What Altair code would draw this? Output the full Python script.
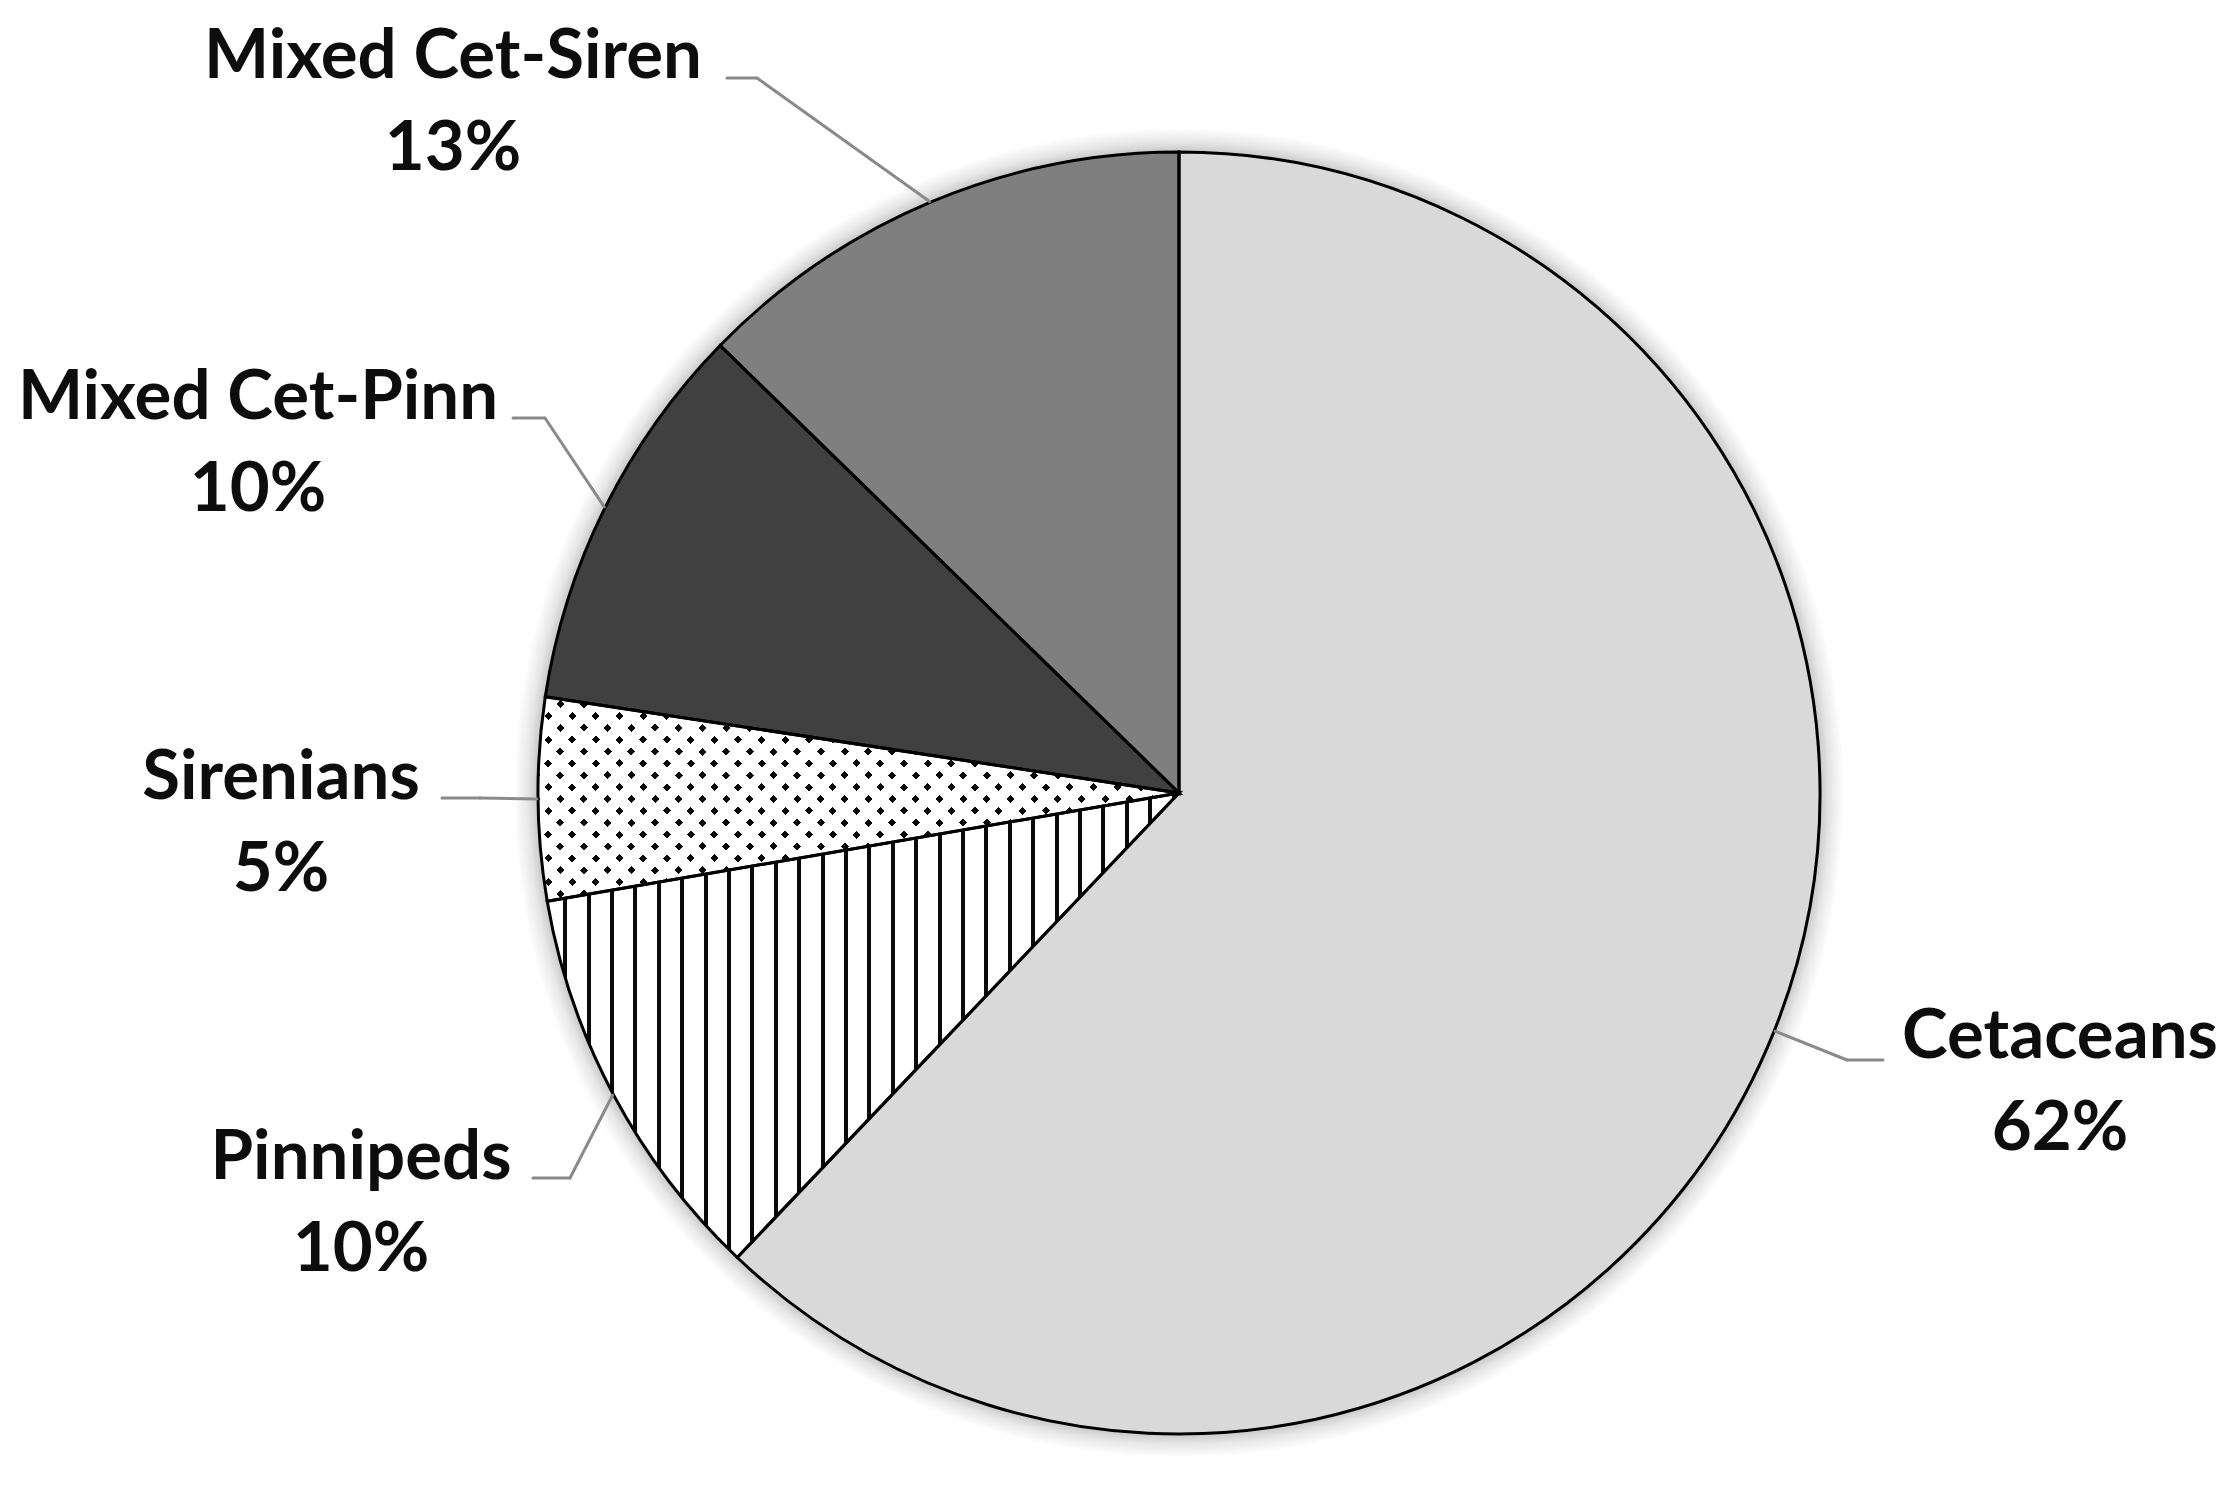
import math
import altair as alt
import pandas as pd

# ---------------- data ----------------
groups = ["Cetaceans", "Pinnipeds", "Sirenians", "Mixed Cet-Pinn", "Mixed Cet-Siren"]
shares = [62.1, 10.2, 5.1, 9.9, 12.7]

# ---------------- layout / style ----------------
W_VIEW, H_VIEW = 2215, 1460
CX, CY, R = 1171, 785, 641
TOTAL = sum(shares)
FONT = "Lato"
FS = 69
LINE_GAP = 92
LEADER = "#8a8a8a"

# label centre x, first-line baseline, leader elbow x, leader end x, leader y (view px)
label_layout = {
    "Cetaceans": (2052, 1050, 1839, 1875, 1052),
    "Pinnipeds": (353, 1171, 562, 525, 1170),
    "Sirenians": (273, 791, 472, 434, 790),
    "Mixed Cet-Pinn": (250, 411, 537, 505, 410),
    "Mixed Cet-Siren": (445, 70, 749, 719, 70),
}

df = pd.DataFrame({"group": groups, "value": shares, "order": list(range(len(groups)))})
df["lx"] = [label_layout[g][0] for g in groups]
df["ly"] = [label_layout[g][1] for g in groups]
df["ex"] = [label_layout[g][2] for g in groups]
df["tx"] = [label_layout[g][3] for g in groups]
df["ey"] = [label_layout[g][4] for g in groups]


# ---------------- pattern geometry (gradients in bbox units) ----------------
def pt(a):
    r = math.radians(a)
    return CX + R * math.sin(r), CY - R * math.cos(r)


def wedge_bbox(name):
    i = groups.index(name)
    a0 = sum(shares[:i]) / TOTAL * 360
    a1 = sum(shares[: i + 1]) / TOTAL * 360
    pts = [(CX, CY), pt(a0), pt(a1)] + [pt(c) for c in (0, 90, 180, 270, 360) if a0 < c < a1]
    xs = [p[0] for p in pts]
    ys = [p[1] for p in pts]
    return min(xs), min(ys), max(xs), max(ys)


def band_stops(length, first, period, half, band_col, bg_col):
    stops = [{"offset": 0, "color": bg_col}]
    pos = first
    while pos < length:
        lo = max(0.0, (pos - half) / length)
        hi = min(1.0, (pos + half) / length)
        stops += [
            {"offset": lo, "color": bg_col},
            {"offset": lo, "color": band_col},
            {"offset": hi, "color": band_col},
            {"offset": hi, "color": bg_col},
        ]
        pos += period
    stops.append({"offset": 1, "color": bg_col})
    return stops


# vertical stripes for Pinnipeds
px0, py0, px1, py1 = wedge_bbox("Pinnipeds")
pw = px1 - px0
stripes_fill = {
    "gradient": "linear", "x1": 0, "y1": 0, "x2": 1, "y2": 0,
    "stops": band_stops(pw, 18, 23.4, 2.0, "#0a0a0a", "#ffffff"),
}

# dot lattice for Sirenians (diagonal stripes x diagonal mask)
sx0, sy0, sx1, sy1 = wedge_bbox("Sirenians")
sw, sh = sx1 - sx0, sy1 - sy0
S = sw + sh
k = S / (sw + sh * sh / sw)
TRANSP = "rgba(255,255,255,0)"
dots_fill = {
    "gradient": "linear", "x1": 0, "y1": 0, "x2": k, "y2": k * sh / sw,
    "stops": band_stops(S, 6, 23.7, 4.0, "#0a0a0a", TRANSP),
}
mask_fill = {
    "gradient": "linear", "x1": 0, "y1": 1, "x2": k, "y2": 1 - k * sh / sw,
    "stops": band_stops(S, 6, 23.7, 4.0, TRANSP, "#ffffff"),
}

glow_r = R + 24
shadow_fill = {
    "gradient": "radial", "x1": 0.5, "y1": 0.5, "r1": 0, "x2": 0.5, "y2": 0.5, "r2": 0.5,
    "stops": [
        {"offset": 0, "color": "#c8c8c8"},
        {"offset": R / glow_r, "color": "#c8c8c8"},
        {"offset": (R + 10) / glow_r, "color": "#e6e6e6"},
        {"offset": 1, "color": "#ffffff"},
    ],
}

# ---------------- chart ----------------
theta_scale = alt.Scale(domain=[0, TOTAL], range=[0, 2 * math.pi])

base = alt.Chart(df).transform_window(
    cum="sum(value)", sort=[alt.SortField("order", order="ascending")], frame=[None, 0]
).transform_calculate(start="datum.cum - datum.value")

centre = dict(x=alt.value(CX), y=alt.value(CY))


def wedge(name, **mark):
    return base.transform_filter(alt.datum.group == name).mark_arc(
        radius=R, strokeWidth=0, **mark
    ).encode(
        theta=alt.Theta("start:Q", scale=theta_scale),
        theta2=alt.Theta2("cum:Q"),
        **centre,
    )


shadow = alt.Chart(df).transform_aggregate(total="sum(value)").mark_arc(
    radius=glow_r, fill=shadow_fill, strokeWidth=0
).encode(theta=alt.Theta("total:Q", scale=theta_scale), **centre)

layers = [
    shadow,
    wedge("Cetaceans", fill="#d9d9d9"),
    wedge("Pinnipeds", fill=stripes_fill),
    wedge("Sirenians", fill="#ffffff"),
    wedge("Sirenians", fill=dots_fill),
    wedge("Sirenians", fill=mask_fill),
    wedge("Mixed Cet-Pinn", fill="#404040"),
    wedge("Mixed Cet-Siren", fill="#7f7f7f"),
]

outline = base.mark_arc(
    radius=R, fill="#ffffff", fillOpacity=0, stroke="#000000", strokeWidth=3
).encode(
    theta=alt.Theta("start:Q", scale=theta_scale),
    theta2=alt.Theta2("cum:Q"),
    **centre,
)
layers.append(outline)

lead = base.transform_calculate(
    mid=f"(datum.start + datum.value / 2) / {TOTAL} * 2 * PI"
).transform_calculate(
    sx=f"{CX} + {R + 1} * sin(datum.mid)",
    sy=f"{CY} - {R + 1} * cos(datum.mid)",
)
seg1 = lead.mark_rule(color=LEADER, strokeWidth=3, strokeCap="round").encode(
    x=alt.X("sx:Q", scale=None, axis=None),
    y=alt.Y("sy:Q", scale=None, axis=None),
    x2="ex:Q",
    y2="ey:Q",
)
seg2 = lead.mark_rule(color=LEADER, strokeWidth=3, strokeCap="round").encode(
    x=alt.X("ex:Q", scale=None, axis=None),
    y=alt.Y("ey:Q", scale=None, axis=None),
    x2="tx:Q",
    y2="ey:Q",
)
layers += [seg1, seg2]

txt = dict(font=FONT, fontSize=FS, fontWeight="bold", align="center",
           baseline="alphabetic", color="#0d0d0d")
names = alt.Chart(df).mark_text(**txt).encode(
    x=alt.X("lx:Q", scale=None, axis=None),
    y=alt.Y("ly:Q", scale=None, axis=None),
    text="group:N",
)
pcts = alt.Chart(df).transform_calculate(
    pct="round(datum.value) + '%'", ly2=f"datum.ly + {LINE_GAP}"
).mark_text(**txt).encode(
    x=alt.X("lx:Q", scale=None, axis=None),
    y=alt.Y("ly2:Q", scale=None, axis=None),
    text="pct:N",
)
layers += [names, pcts]

chart = alt.layer(*layers).properties(
    width=W_VIEW, height=H_VIEW,
    autosize=alt.AutoSizeParams(type="none"), padding=0,
).configure_view(strokeWidth=0)

chart.save("out.html", embed_options={"renderer": "svg", "actions": False})
